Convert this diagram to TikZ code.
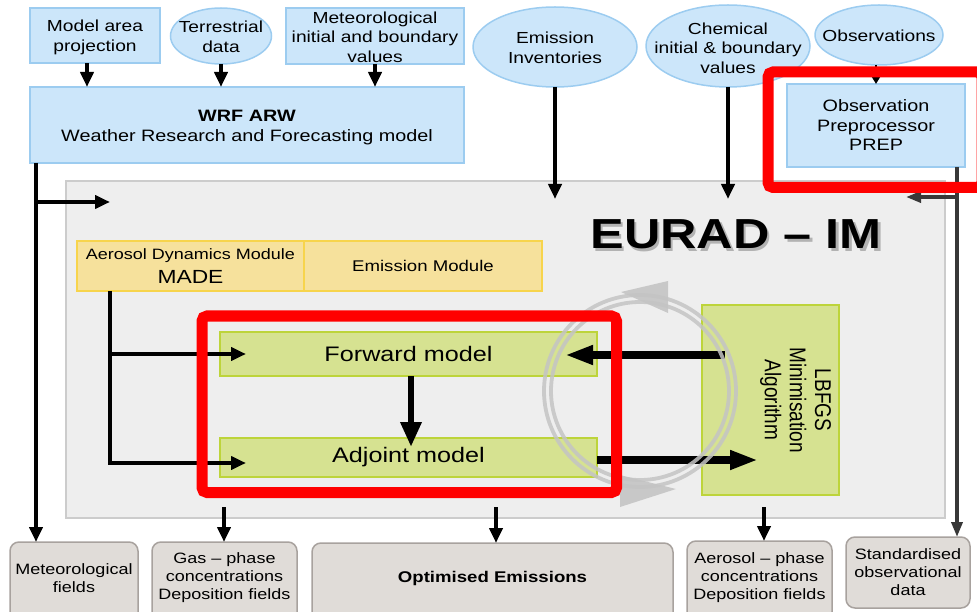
\documentclass[tikz,border=0pt]{standalone}
\usepackage{graphicx}
\usepackage{fontspec}
\setmainfont{Liberation Sans}[FakeStretch=1.2]
\newfontfamily\plainsans{Liberation Sans}
\usetikzlibrary{arrows.meta,shapes.geometric,calc}
\definecolor{bluefill}{HTML}{CCE6FA}
\definecolor{blueline}{HTML}{9CCCF0}
\definecolor{yelfill}{HTML}{F6E19C}
\definecolor{yelline}{HTML}{F7D44C}
\definecolor{grnfill}{HTML}{D6E291}
\definecolor{grnline}{HTML}{BDD43A}
\definecolor{eurfill}{HTML}{EEEEEE}
\definecolor{eurline}{HTML}{CCCCCC}
\definecolor{outfill}{HTML}{E0DCD8}
\definecolor{outbd}{HTML}{A8A29E}
\definecolor{redbox}{HTML}{FF0000}
\definecolor{darkln}{HTML}{383838}
\definecolor{cycgray}{HTML}{C4C4C4}
\begin{document}
\begin{tikzpicture}[x=1pt,y=-1pt,
  every node/.style={inner sep=0pt, outer sep=0pt, align=center},
  bluebox/.style={draw=blueline, fill=bluefill, line width=1.5pt},
  blueell/.style={ellipse, draw=blueline, fill=bluefill, line width=1.5pt},
  yelbox/.style={draw=yelline, fill=yelfill, line width=1.5pt},
  grnbox/.style={draw=grnline, fill=grnfill, line width=1.5pt},
  eurbox/.style={draw=eurline, fill=eurfill, line width=1.5pt},
  outbox/.style={draw=outbd, fill=outfill, line width=1.5pt, rounded corners=9pt},
  f15/.style={font=\fontsize{15}{18}\selectfont},
  f16/.style={font=\fontsize{16}{20}\selectfont},
  arr/.style={line width=4pt, -{Triangle[length=15pt,width=13pt]}},
  smallarr/.style={line width=2pt, -{Triangle[length=8pt,width=9pt]}},
  darkarr/.style={draw=darkln, line width=3.5pt, -{Triangle[length=15pt,width=11pt]}},
  vthick/.style={line width=6.5pt, -{Triangle[length=25pt,width=20pt]}},
  hthick/.style={line width=8pt, -{Triangle[length=28pt,width=18pt]}},
  cyc/.style={draw=cycgray, line width=3.8pt, opacity=0.85},
  redb/.style={draw=redbox, line width=11pt, rounded corners=5pt}
]
\clip (0,0) rectangle (977,612);
\useasboundingbox (0,0) rectangle (977,612);

% EURAD background
\node[eurbox, minimum width=879pt, minimum height=337pt] (eur) at (505.5,349.5) {};

% top row
\node[bluebox, minimum width=130pt, minimum height=55pt] (mapn) at (95,35.5) {};
\node[f16] (mapnt) at (95,37) {Model area\\projection};
\node[blueell, minimum width=101pt, minimum height=56pt] (terr) at (221,36) {};
\node[f16] (terrt) at (221,36.5) {Terrestrial\\data};
\node[bluebox, minimum width=178pt, minimum height=56pt] (meteo) at (375,36) {};
\node[font=\fontsize{16}{19.5}\selectfont] (meteot) at (375,37) {Meteorological\\initial and boundary\\values};
\node[bluebox, minimum width=434pt, minimum height=76pt] (wrf) at (247,125) {};
\node[font=\fontsize{16.5}{20}\selectfont] (wrft) at (247,127.5) {\textbf{WRF ARW}\\Weather Research and Forecasting model};

\node[blueell, minimum width=164pt, minimum height=80pt] (emis) at (555,47) {};
\node[f16] (emist) at (555,48) {Emission\\Inventories};
\node[blueell, minimum width=164pt, minimum height=82pt] (chem) at (728,46) {};
\node[font=\fontsize{16}{19.5}\selectfont] (chemt) at (728,48) {Chemical\\initial \& boundary\\values};
\node[blueell, minimum width=128pt, minimum height=60pt] (obs) at (879,35) {};
\node[f16] (obst) at (879,36) {Observations};
\node[bluebox, minimum width=178pt, minimum height=83pt, font=\fontsize{16.5}{19.5}\selectfont] (prep) at (876,125.5) {Observation\\Preprocessor\\PREP};

% title with shadow
\node[font=\fontsize{42}{42}\selectfont\bfseries] (eurt) at (736,236) {\makebox[0pt][l]{\hspace{2.5pt}\raisebox{-2.5pt}{\color{black!30}EURAD – IM}}EURAD – IM};

% modules
\node[yelbox, minimum width=227pt, minimum height=50pt] (made) at (190.5,266) {};
\node[font=\fontsize{15}{17}\selectfont] (madet1) at (190.5,256) {Aerosol Dynamics Module};
\node[font=\fontsize{19}{21}\selectfont] (madet2) at (190.5,276.5) {MADE};
\node[yelbox, minimum width=238pt, minimum height=50pt, font=\fontsize{15.5}{18}\selectfont] (emod) at (423,266) {Emission Module};

\node[grnbox, minimum width=377pt, minimum height=44pt, font=\fontsize{21}{24}\selectfont] (fwd) at (408.5,354) {Forward model};
\node[grnbox, minimum width=377pt, minimum height=39pt, font=\fontsize{21}{24}\selectfont] (adj) at (408.5,457.5) {Adjoint model};
\node[grnbox, minimum width=137pt, minimum height=190pt] (lbfgs) at (770.5,400) {};
\node (lbt) at (795,400) {\scalebox{1.2}[1]{\rotatebox{-90}{\plainsans\fontsize{19}{21}\selectfont\begin{tabular}{@{}c@{}}LBFGS\\Minimisation\\Algorithm\end{tabular}}}};

% bottom outputs
\node[outbox, minimum width=128pt, minimum height=80pt] (bmet) at (74,582) {};
\node[f15] (bmett) at (74,578) {Meteorological\\fields};
\node[outbox, minimum width=145pt, minimum height=80pt] (bgas) at (224.5,582) {};
\node[f15] (bgast) at (224.5,578) {Gas – phase\\concentrations\\Deposition fields};
\node[outbox, minimum width=361pt, minimum height=80pt] (bopt) at (492.5,583) {};
\node[font=\fontsize{15.5}{18}\selectfont\bfseries] (boptt) at (492.5,578) {Optimised Emissions};
\node[outbox, minimum width=145pt, minimum height=80pt] (baer) at (759.5,581) {};
\node[f15] (baert) at (759.5,578) {Aerosol – phase\\concentrations\\Deposition fields};
\node[outbox, minimum width=124pt, minimum height=71pt] (bstd) at (908,572.5) {};
\node[f15] (bstdt) at (908,572.5) {Standardised\\observational\\data};

% coordinates for free ends
\coordinate (t1) at (87,63.5);
\coordinate (eurtop) at (0,199);
\coordinate (wl) at (36,163);
\coordinate (wb) at (36,202);
\coordinate (wbe) at (110,202);
\coordinate (pl) at (957,167);
\coordinate (pb) at (957,197);
\coordinate (pbe) at (906,197);
\coordinate (m0) at (110,291);
\coordinate (m1) at (110,354);
\coordinate (m2) at (110,463);
\coordinate (fa) at (246,354);
\coordinate (aa) at (246,463);
\coordinate (fd) at (411,376);
\coordinate (fde) at (411,447);
\coordinate (lbA) at (725,355);
\coordinate (fwdIn) at (565,355);
\coordinate (adjOut) at (597,460);
\coordinate (lbIn) at (758,460);
\coordinate (g1) at (224,507);
\coordinate (g2) at (496,507);
\coordinate (g3) at (764,507);
\coordinate (cc) at (640,391);

% top arrows
\draw[arr] (t1) -- (t1 |- wrf.north);
\draw[arr] (terr.south) -- (terr.south |- wrf.north);
\draw[arr] (meteo.south) -- (meteo.south |- wrf.north);
\draw[arr] (emis.south) -- (emis.south |- eurtop);
\draw[arr] (chem.south) -- (chem.south |- eurtop);
\draw[smallarr] (prep.north |- obs.south) -- (prep.north);

% left / right feeds
\draw[arr] (wl) -- (wl |- bmet.north);
\draw[arr] (wb) -- (wbe);
\draw[darkarr] (pl) -- (pl |- bstd.north);
\draw[darkarr] (pb) -- (pbe);

% MADE feeds
\draw[arr] (m0) -- (m2) -- (aa);
\draw[arr] (m1) -- (fa);

% model arrows
\draw[vthick] (fd) -- (fde);
\draw[hthick] (lbA) -- (fwdIn);
\draw[hthick] (adjOut) -- (lbIn);

% output arrows
\draw[arr] (g1) -- (g1 |- bgas.north);
\draw[arr] (g2) -- (g2 |- bopt.north);
\draw[arr] (g3) -- (g3 |- baer.north);

% iteration cycle
\draw[cyc] (cc) circle[radius=96];
\draw[cyc] (cc) circle[radius=89];
\fill[cycgray, opacity=0.9] (668,281) -- (668,313) -- (621,292) -- cycle;
\fill[cycgray, opacity=0.9] (620,475) -- (620,507) -- (676,489) -- cycle;

% highlight boxes
\draw[redb] (202,316) rectangle (616.5,492.5);
\draw[redb] (768,72) rectangle (982,187.5);
\end{tikzpicture}
\end{document}
